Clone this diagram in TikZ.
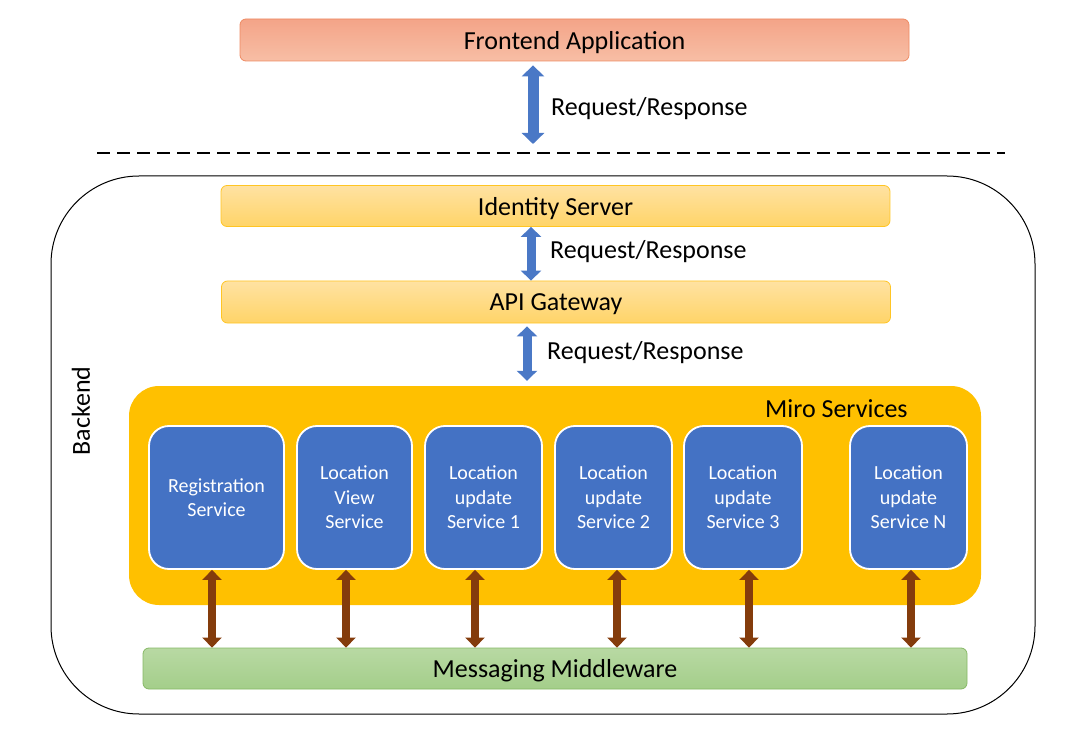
\documentclass[tikz,border=0pt]{standalone}
\usepackage{fontspec}
\setmainfont{Carlito}
\usetikzlibrary{arrows.meta,calc}
\definecolor{svcblue}{HTML}{4472C4}
\definecolor{arrblue}{HTML}{4A78C6}
\definecolor{miro}{HTML}{FFC000}
\definecolor{brownarrc}{HTML}{843C0C}
\definecolor{frtop}{HTML}{F4A488}
\definecolor{frbot}{HTML}{F7BEA5}
\definecolor{frline}{HTML}{EE8A62}
\definecolor{idtop}{HTML}{FFE2A2}
\definecolor{idbot}{HTML}{FFD468}
\definecolor{idline}{HTML}{FFC524}
\definecolor{mmtop}{HTML}{B8D9A3}
\definecolor{mmbot}{HTML}{A4CE8A}
\definecolor{mmline}{HTML}{86B865}
\begin{document}
\begin{tikzpicture}[x=1pt,y=-1pt,
  big/.style={font=\fontsize{26}{31}\selectfont},
  bar/.style={big, rounded corners=6pt, minimum height=41pt, inner sep=0pt, line width=0.8pt, text depth=0pt},
  svc/.style={draw=white, line width=1.8pt, fill=svcblue, rounded corners=20pt,
    text=white, align=center, inner sep=0pt, minimum height=143pt, text depth=-4pt,
    font=\fontsize{20}{24.5}\selectfont},
  lbl/.style={big, anchor=base west, inner sep=0pt},
  bluearr/.style={draw=arrblue, line width=11pt, {Triangle[width=22pt,length=11pt]}-{Triangle[width=22pt,length=11pt]}},
  bluearrs/.style={draw=arrblue, line width=9pt, {Triangle[width=20pt,length=10pt]}-{Triangle[width=20pt,length=10pt]}},
  brownarr/.style={draw=brownarrc, line width=8.5pt, {Triangle[width=19pt,length=10pt]}-{Triangle[width=19pt,length=10pt]}}
]
\useasboundingbox (0,0) rectangle (1081,743);

% backend container
\node[draw=black, line width=1pt, rounded corners=88pt, minimum width=984pt, minimum height=538pt, inner sep=0pt] (backend) at (543,445) {};
\node[big, rotate=90, inner sep=0pt] (blabel) at (81,411) {Backend};

% frontend
\node[bar, draw=frline, top color=frtop, bottom color=frbot, minimum width=669pt, minimum height=42pt] (front) at (574.5,40) {Frontend Application};

% dashed separator
\coordinate (dl) at (97,153);
\coordinate (dr) at (1005,153);
\draw[line width=2.8pt, dash pattern=on 13pt off 7pt] (dl) -- (dr);

% identity / api
\node[bar, draw=idline, top color=idtop, bottom color=idbot, minimum width=669pt] (ids) at (555.5,206) {Identity Server};
\node[bar, draw=idline, top color=idtop, bottom color=idbot, minimum width=669pt, minimum height=42pt] (api) at (556,302) {API Gateway};

% miro services container
\node[fill=miro, rounded corners=30pt, minimum width=852pt, minimum height=219pt, inner sep=0pt] (miro) at (555,495.5) {};
\node[lbl] (mlabel) at (765,417) {Miro Services};

% services
\node[svc, minimum width=135pt] (reg) at (216.5,497.5) {Registration\\Service};
\node[svc, minimum width=115pt] (lv) at (354.5,497.5) {Location\\View\\Service};
\node[svc, minimum width=117pt] (l1) at (483.5,497.5) {Location\\update\\Service 1};
\node[svc, minimum width=117pt] (l2) at (613.5,497.5) {Location\\update\\Service 2};
\node[svc, minimum width=118pt] (l3) at (743,497.5) {Location\\update\\Service 3};
\node[svc, minimum width=117pt] (ln) at (908.5,497.5) {Location\\update\\Service N};

% messaging
\node[bar, draw=mmline, top color=mmtop, bottom color=mmbot, minimum width=824pt] (mm) at (555,668.5) {Messaging Middleware};

% blue request/response arrows
\coordinate (a1t) at ($(front.south)+(-41.5,4)$);
\coordinate (a1b) at ($(a1t |- dl)+(0,-9)$);
\draw[bluearr] (a1t) -- (a1b);
\node[lbl] (r1) at (551,116) {Request/Response};

\draw[bluearrs] ($(ids.south)+(-24.5,0)$) -- ($(api.north)+(-25,0)$);
\node[lbl] (r2) at (550,259) {Request/Response};

\draw[bluearrs] ($(api.south)+(-29,3)$) -- ($(miro.north)+(-28,-5)$);
\node[lbl] (r3) at (547,359) {Request/Response};

% brown arrows to messaging middleware
\foreach \s/\dx in {reg/-4.5, lv/-8.5, l1/-8.5, l2/3.5, l3/6, ln/2.5}
  \draw[brownarr] ($(\s.south)+(\dx,0)$) -- ($(\s.south |- mm.north)+(\dx,0)$);
\end{tikzpicture}
\end{document}
